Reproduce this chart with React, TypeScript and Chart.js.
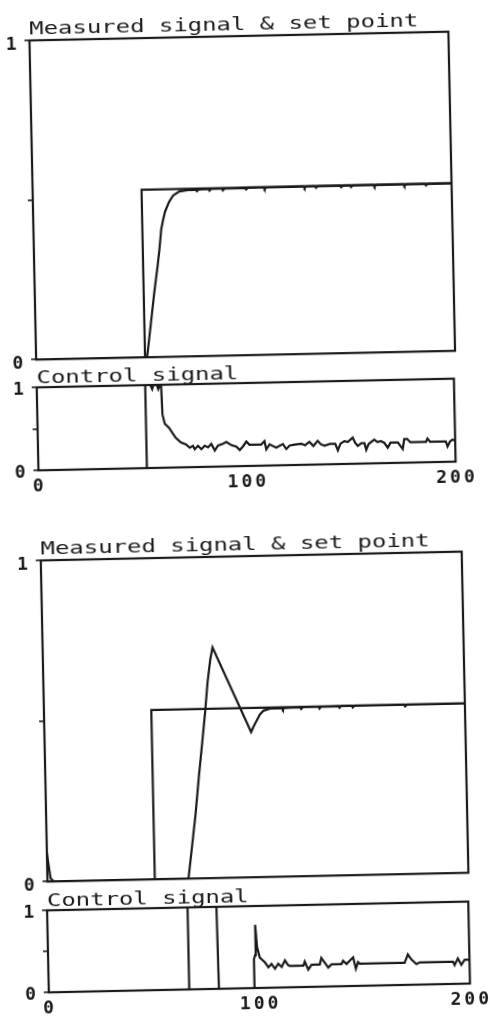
import React, { useEffect, useRef } from 'react';
import { Chart, registerables } from 'chart.js';

Chart.register(...registerables);

type Pt = [number, number];

const INK = '#1a1a1a';
const FONT = '"DejaVu Sans Mono", monospace';

// axis ticks
const xTickValues = [0, 100, 200];
const xTickText = ['0', '100', '200'];
const yTickValues = [0, 0.5, 1];
const yTickText = ['0', '', '1'];

// panel titles
const measuredTitle = 'Measured signal & set point';
const controlTitle = 'Control signal';

// ---- Figure 1 (upper experiment) ----
const fig1SetPoint: Pt[] = [[0, 0], [52, 0], [52, 0.525], [200, 0.525]];

const fig1Measured: Pt[] = [
  [0, 0], [53, 0], [55, 0.1], [57, 0.2], [59, 0.29], [60, 0.34], [61, 0.4], [62, 0.43],
  [63, 0.455], [65, 0.485], [67, 0.505], [70, 0.517], [74, 0.521], [78, 0.522],
  [78.4, 0.517], [79.2, 0.522], [84, 0.523], [84.4, 0.518], [85.2, 0.523], [90.4, 0.523],
  [90.8, 0.518], [91.6, 0.523], [101.5, 0.524], [101.9, 0.519], [102.7, 0.524],
  [110.3, 0.524], [110.7, 0.519], [111.5, 0.524], [129.4, 0.525], [129.8, 0.52],
  [130.6, 0.525], [134.9, 0.525], [135.3, 0.52], [136.1, 0.525], [146.9, 0.525],
  [147.3, 0.52], [148.1, 0.525], [151.6, 0.525], [152, 0.52], [152.8, 0.525],
  [162.8, 0.525], [163.2, 0.52], [164, 0.525], [177.1, 0.525], [177.5, 0.52],
  [178.3, 0.525], [187.4, 0.525], [187.8, 0.52], [188.6, 0.525], [200, 0.525],
];

const fig1Control: Pt[] = [
  [0, 0], [52, 0], [52, 1], [54.5, 1], [55.3, 0.95], [56, 1], [57.5, 1], [58.2, 0.95],
  [59, 1], [59.6, 1], [60, 0.64], [61, 0.53], [63, 0.48], [66, 0.36], [68.5, 0.3],
  [71, 0.275], [72.7, 0.235], [74.3, 0.255], [75.1, 0.215], [76.7, 0.255], [78.3, 0.215],
  [79.9, 0.255], [81.5, 0.235], [83.1, 0.275], [84.7, 0.195], [86.3, 0.255], [88.7, 0.275],
  [90.3, 0.295], [92.7, 0.255], [95.1, 0.235], [96.7, 0.195], [98.2, 0.235], [99.9, 0.295],
  [101.4, 0.255], [107, 0.255], [108.6, 0.295], [109.4, 0.195], [111, 0.255], [114.2, 0.215],
  [115.8, 0.235], [117.4, 0.255], [119, 0.195], [120.6, 0.235], [123, 0.245], [126.2, 0.255],
  [128, 0.235], [130.1, 0.275], [132, 0.225], [134.1, 0.285], [135.5, 0.245], [137.3, 0.225],
  [140, 0.245], [142.5, 0.245], [143.7, 0.165], [145, 0.245], [146.9, 0.275], [148.5, 0.265],
  [150.9, 0.315], [152, 0.255], [153.3, 0.215], [155, 0.245], [156.5, 0.245], [157.3, 0.165],
  [158.5, 0.235], [161.2, 0.285], [162.8, 0.255], [164.4, 0.265], [166, 0.245], [167.6, 0.185],
  [169, 0.245], [170.8, 0.245], [172.5, 0.245], [174.8, 0.165], [175.6, 0.285], [177, 0.285],
  [178.5, 0.245], [186, 0.245], [186.7, 0.285], [188, 0.245], [195.5, 0.245], [196.3, 0.185],
  [197.5, 0.245], [198.7, 0.265], [200, 0.255],
];

// ---- Figure 2 (lower experiment) ----
const fig2SetPoint: Pt[] = [[0, 0], [51, 0], [51, 0.527], [200, 0.527]];

const fig2Measured: Pt[] = [
  [0, 0.09], [0.5, 0.06], [1.5, 0.01], [3, 0], [67, 0], [69, 0.1], [71, 0.2], [73, 0.32],
  [75, 0.43], [76.6, 0.52], [78, 0.61], [79.5, 0.68], [80.7, 0.718], [98.2, 0.452],
  [99.5, 0.47], [101, 0.488], [102.5, 0.506], [104.3, 0.518], [107.5, 0.524],
  [113.1, 0.525], [113.5, 0.52], [114.3, 0.525], [121.8, 0.526], [122.2, 0.521],
  [123, 0.526], [130.5, 0.526], [130.9, 0.521], [131.7, 0.526], [140, 0.527],
  [140.4, 0.522], [141.2, 0.527], [146.3, 0.527], [146.7, 0.522], [147.5, 0.527],
  [171.2, 0.527], [171.6, 0.522], [172.4, 0.527], [200, 0.527],
];

const fig2Control: Pt[] = [
  [0, 0], [66.7, 0], [66.7, 1], [80.4, 1], [80.8, 0], [97.7, 0], [97.7, 0.35], [98.3, 0.4],
  [98.6, 0.77], [99.3, 0.5], [100.5, 0.37], [101.3, 0.35], [102.9, 0.31], [104.5, 0.25],
  [106, 0.29], [107.6, 0.23], [109.2, 0.29], [110.8, 0.25], [112.4, 0.33], [113.9, 0.27],
  [114.7, 0.26], [121.1, 0.26], [121.8, 0.31], [123.4, 0.21], [125, 0.27], [128.9, 0.27],
  [129.7, 0.35], [131.3, 0.29], [132.9, 0.23], [134.5, 0.27], [139.2, 0.27], [140, 0.31],
  [141.6, 0.27], [144.8, 0.35], [146, 0.21], [147.1, 0.29], [147.9, 0.27], [169.2, 0.27],
  [170.8, 0.37], [172.4, 0.31], [174.8, 0.25], [176.3, 0.27], [192.2, 0.27], [192.9, 0.23],
  [194.5, 0.31], [196.1, 0.23], [197.7, 0.29], [200, 0.29],
];

interface Area { left: number; top: number; right: number; bottom: number }

const plotterPlugin = {
  id: 'plotter',
  beforeUpdate(chart: any) {
    chart.ctx.letterSpacing = '3px';
  },
  beforeDraw(chart: any) {
    chart.ctx.letterSpacing = '3px';
  },
  afterDraw(chart: any, _args: any, opts: any) {
    const { ctx, chartArea } = chart;
    ctx.save();
    ctx.letterSpacing = '0px';
    ctx.strokeStyle = INK;
    ctx.lineWidth = 2.2;
    ctx.strokeRect(chartArea.left, chartArea.top, chartArea.right - chartArea.left, chartArea.bottom - chartArea.top);
    ctx.font = '18px ' + FONT;
    ctx.fillStyle = INK;
    ctx.textAlign = 'left';
    ctx.textBaseline = 'alphabetic';
    ctx.translate(chartArea.left, chartArea.top - opts.gap);
    ctx.scale(1.33, 1);
    ctx.fillText(opts.text, 0, 0);
    ctx.restore();
  },
};

interface PanelProps {
  area: Area;
  kind: 'measured' | 'control';
  series: Pt[][];
}

function Panel({ area, kind, series }: PanelProps) {
  const ref = useRef<HTMLCanvasElement>(null);
  const isControl = kind === 'control';
  const padTop = isControl ? 24 : 30;
  const padBottom = isControl ? 4 : 14;
  const padRight = isControl ? 26 : 6;
  const xAxisH = isControl ? 28 : 0;
  const cw = Math.round(area.right + padRight);
  const ch = Math.round(area.bottom - area.top + padTop + padBottom + xAxisH);

  useEffect(() => {
    const canvas = ref.current;
    if (!canvas) return;
    const chart = new Chart(canvas, {
      type: 'line',
      data: {
        datasets: series.map((s) => ({
          data: s.map(([x, y]) => ({ x, y })),
          borderColor: INK,
          borderWidth: 2.2,
          pointRadius: 0,
          tension: 0,
          fill: false,
        })),
      },
      options: {
        animation: false,
        responsive: false,
        events: [],
        layout: { padding: { left: 0, top: padTop, right: padRight, bottom: padBottom } },
        plugins: {
          legend: { display: false },
          tooltip: { enabled: false },
          title: { display: false },
          plotter: { text: isControl ? controlTitle : measuredTitle, gap: isControl ? 4 : 6 },
        } as any,
        scales: {
          x: {
            type: 'linear',
            min: 0,
            max: 200,
            display: isControl,
            afterBuildTicks: (s: any) => { s.ticks = xTickValues.map((v) => ({ value: v })); },
            afterFit: (s: any) => { s.height = xAxisH; },
            grid: { display: false, drawTicks: false },
            border: { display: false },
            ticks: {
              font: { family: FONT, size: 18, weight: 'bold' },
              color: INK,
              padding: 6,
              maxRotation: 0,
              autoSkip: false,
              labelOffset: 1,
              callback: (v: any) => xTickText[xTickValues.indexOf(Number(v))] ?? '',
            },
          },
          y: {
            type: 'linear',
            min: 0,
            max: 1,
            afterBuildTicks: (s: any) => { s.ticks = yTickValues.map((v) => ({ value: v })); },
            afterFit: (s: any) => { s.width = area.left; },
            grid: { drawOnChartArea: false, drawTicks: true, tickLength: 5, color: INK, lineWidth: 1.6 },
            border: { display: false },
            ticks: {
              font: { family: FONT, size: 18, weight: 'bold' },
              color: INK,
              padding: 5,
              labelOffset: isControl ? 2.5 : 4.5,
              callback: (v: any) => yTickText[yTickValues.indexOf(Number(v))] ?? '',
            },
          },
        },
      } as any,
      plugins: [plotterPlugin],
    });
    return () => chart.destroy();
  }, []);

  return (
    <canvas
      ref={ref}
      width={cw}
      height={ch}
      style={{ position: 'absolute', left: 0, top: area.top - padTop, width: cw, height: ch }}
    />
  );
}

export default function App() {
  const figStyle = (ox: number, oy: number): React.CSSProperties => ({
    position: 'absolute',
    left: 0,
    top: 0,
    width: 490,
    height: 1018,
    transform: 'rotate(-1.2deg)',
    transformOrigin: `${ox}px ${oy}px`,
  });
  return (
    <div style={{ position: 'absolute', left: 0, top: 0, width: 490, height: 1018, overflow: 'hidden', background: '#fff' }}>
      <div style={figStyle(245, 255)}>
        <Panel area={{ left: 34, top: 36, right: 453, bottom: 357 }} kind="measured" series={[fig1SetPoint, fig1Measured]} />
        <Panel area={{ left: 34, top: 383, right: 452, bottom: 466 }} kind="control" series={[fig1Control]} />
      </div>
      <div style={figStyle(255, 760)}>
        <Panel area={{ left: 45, top: 556, right: 466, bottom: 879 }} kind="measured" series={[fig2SetPoint, fig2Measured]} />
        <Panel area={{ left: 44, top: 906, right: 466, bottom: 988 }} kind="control" series={[fig2Control]} />
      </div>
    </div>
  );
}
